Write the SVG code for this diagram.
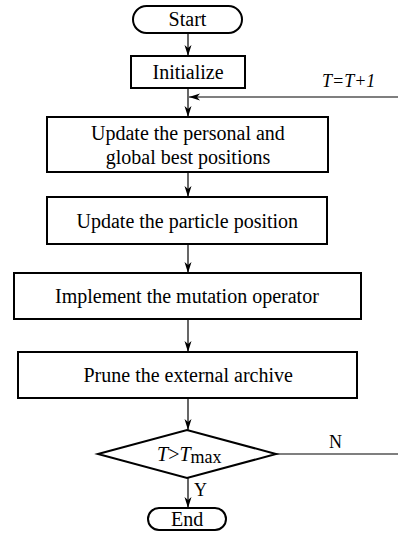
<svg xmlns="http://www.w3.org/2000/svg" width="398" height="533" viewBox="0 0 398 533">
<style>
.box{fill:#fff;stroke:#000;stroke-width:2}
.ln{fill:none;stroke:#000;stroke-width:1.2}
</style>
<defs>
<marker id="ah" markerUnits="userSpaceOnUse" markerWidth="12" markerHeight="8" refX="11" refY="3.5" orient="auto">
<path d="M0,0 L11,3.5 L0,7 L3,3.5 z" fill="#000"/>
</marker>
</defs>
<rect width="398" height="533" fill="#fff"/>
<g id="connectors">
<line class="ln" x1="188" y1="33" x2="188" y2="56" marker-end="url(#ah)"/>
<line class="ln" x1="188" y1="88" x2="188" y2="117" marker-end="url(#ah)"/>
<line class="ln" x1="398" y1="97" x2="189" y2="97" marker-end="url(#ah)"/>
<line class="ln" x1="188" y1="172" x2="188" y2="197" marker-end="url(#ah)"/>
<line class="ln" x1="188" y1="244" x2="188" y2="273" marker-end="url(#ah)"/>
<line class="ln" x1="188" y1="319" x2="188" y2="352" marker-end="url(#ah)"/>
<line class="ln" x1="188" y1="398" x2="188" y2="430" marker-end="url(#ah)"/>
<line class="ln" x1="188" y1="478" x2="188" y2="508" marker-end="url(#ah)"/>
<line class="ln" x1="276" y1="454" x2="398" y2="454"/>
<text x="322" y="87" font-family="Liberation Serif" font-size="18" font-style="italic">T=T+1</text>
<text x="329" y="448" font-family="Liberation Serif" font-size="18">N</text>
<text x="194" y="496" font-family="Liberation Serif" font-size="18">Y</text>
</g>
<g id="start">
<rect class="box" x="133" y="6" width="109" height="27" rx="13.5"/>
<text x="168.6" y="26" font-family="Liberation Serif" font-size="20">Start</text>
</g>
<g id="initialize">
<rect class="box" x="131" y="56" width="114" height="32"/>
<text x="152.5" y="79" font-family="Liberation Serif" font-size="20">Initialize</text>
</g>
<g id="update-best">
<rect class="box" x="47" y="117" width="281" height="55"/>
<text x="91" y="140" font-family="Liberation Serif" font-size="20">Update the personal and</text>
<text x="105.8" y="164" font-family="Liberation Serif" font-size="20">global best positions</text>
</g>
<g id="update-position">
<rect class="box" x="47" y="197" width="280" height="47"/>
<text x="76.5" y="228" font-family="Liberation Serif" font-size="20">Update the particle position</text>
</g>
<g id="mutation">
<rect class="box" x="14" y="273" width="347" height="46"/>
<text x="55" y="303" font-family="Liberation Serif" font-size="20">Implement the mutation operator</text>
</g>
<g id="prune">
<rect class="box" x="18" y="352" width="339" height="46"/>
<text x="83.5" y="382" font-family="Liberation Serif" font-size="20">Prune the external archive</text>
</g>
<g id="decision">
<polygon class="box" points="98,454 187,430 276,454 187,478"/>
<text x="157" y="461" font-family="Liberation Serif" font-size="20"><tspan font-style="italic">T</tspan><tspan>&gt;</tspan><tspan font-style="italic">T</tspan><tspan dy="2" font-size="18">max</tspan></text>
</g>
<g id="end">
<rect class="box" x="148" y="508" width="78" height="22" rx="11"/>
<text x="171" y="526" font-family="Liberation Serif" font-size="20">End</text>
</g>
</svg>
